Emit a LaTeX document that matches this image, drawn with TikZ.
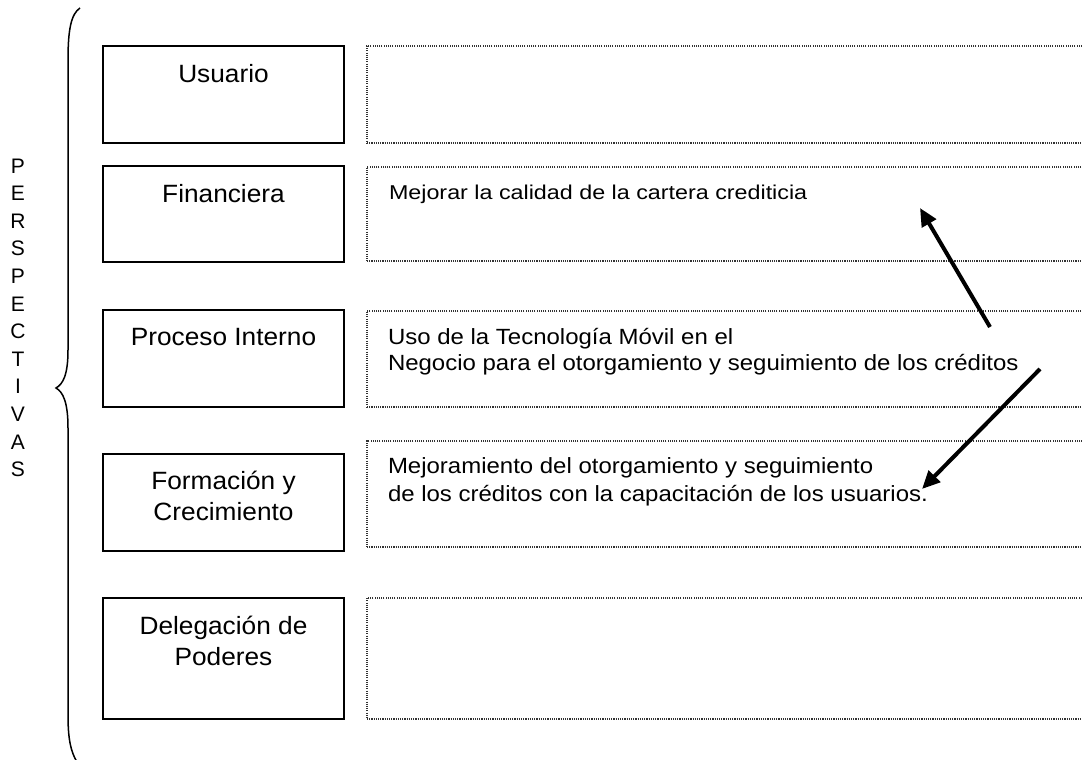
\documentclass[tikz,border=0pt]{standalone}
\usepackage{graphicx}
\usepackage{fontspec}
\setmainfont{Liberation Sans}
\usetikzlibrary{arrows.meta}
\newcommand\hsc[2]{\scalebox{#1}[1]{#2}}
\tikzset{
  solidbox/.style={draw=black, line width=1.5pt, rectangle, minimum width=241pt, inner sep=0pt, outer sep=0pt, anchor=north west},
  dotbox/.style={draw=black!80, line width=1.1pt, dash pattern=on 1.1pt off 1.1pt, rectangle, minimum width=760pt, inner sep=0pt, outer sep=0pt, anchor=north west},
  lbl/.style={inner sep=0pt, outer sep=0pt, anchor=base, font=\fontsize{25}{31}\selectfont},
  rtxt/.style={inner sep=0pt, outer sep=0pt, anchor=base west},
  arr/.style={line width=4pt, -{Triangle[length=18pt,width=16pt]}},
  bracest/.style={line width=1.5pt},
}
\begin{document}
\begin{tikzpicture}[x=1pt,y=-1pt]
\useasboundingbox (0,0) rectangle (1082,760);
\clip (0,0) rectangle (1082,760);

% vertical title
\node[inner sep=0pt, anchor=base, font=\fontsize{21}{27.6}\selectfont] (pers) at (18,173)
  {\begin{tabular}[t]{@{}c@{}}P\\E\\R\\S\\P\\E\\C\\T\\I\\V\\A\\S\end{tabular}};

% brace
\draw[bracest] (80,8) .. controls (71,14) and (68,30) .. (68,60) -- (68,350)
  .. controls (68,375) and (63,384) .. (56,388)
  .. controls (63,392) and (68,402) .. (68,428) -- (68,715)
  .. controls (68,740) and (71,752) .. (77,762);

% left boxes
\node[solidbox, minimum height=97pt] (usu) at (103,46) {};
\node[solidbox, minimum height=96pt] (fin) at (103,166) {};
\node[solidbox, minimum height=97pt] (pro) at (103,310) {};
\node[solidbox, minimum height=97pt] (for) at (103,454) {};
\node[solidbox, minimum height=121pt] (del) at (103,598) {};

\node[lbl] (usuT) at (223.5,82) {\hsc{1.05}{Usuario}};
\node[lbl] (finT) at (223.5,202.5) {\hsc{1.05}{Financiera}};
\node[lbl] (proT) at (223.5,345) {\hsc{1.05}{Proceso Interno}};
\node[lbl] (forT) at (223.5,489) {\hsc{1.05}{\begin{tabular}[t]{@{}c@{}}Formación y\\Crecimiento\end{tabular}}};
\node[lbl] (delT) at (223.5,634) {\hsc{1.05}{\begin{tabular}[t]{@{}c@{}}Delegación de\\Poderes\end{tabular}}};

% right dotted boxes
\node[dotbox, minimum height=97pt] (usuR) at (367,46) {};
\node[dotbox, minimum height=94pt] (finR) at (367,167) {};
\node[dotbox, minimum height=96pt] (proR) at (367,311) {};
\node[dotbox, minimum height=106pt] (forR) at (367,441) {};
\node[dotbox, minimum height=121pt] (delR) at (367,598) {};

\node[rtxt, font=\fontsize{20}{24}\selectfont] (finRT) at (389,199)
  {\hsc{1.165}{Mejorar la calidad de la cartera crediticia}};
\node[rtxt, font=\fontsize{22}{26}\selectfont] (proRT) at (388,344)
  {\hsc{1.09}{\begin{tabular}[t]{@{}l@{}}Uso de la Tecnología Móvil en el\\Negocio para el otorgamiento y seguimiento de los créditos\end{tabular}}};
\node[rtxt, font=\fontsize{22}{28}\selectfont] (forRT) at (388,473)
  {\hsc{1.09}{\begin{tabular}[t]{@{}l@{}}Mejoramiento del otorgamiento y seguimiento\\de los créditos con la capacitación de los usuarios.\end{tabular}}};

% arrows
\coordinate (a1s) at (990,327);
\coordinate (a1e) at (920,208);
\coordinate (a2s) at (1040,369);
\coordinate (a2e) at (922,489);
\draw[arr] (a1s) -- (a1e);
\draw[arr] (a2s) -- (a2e);
\end{tikzpicture}
\end{document}
